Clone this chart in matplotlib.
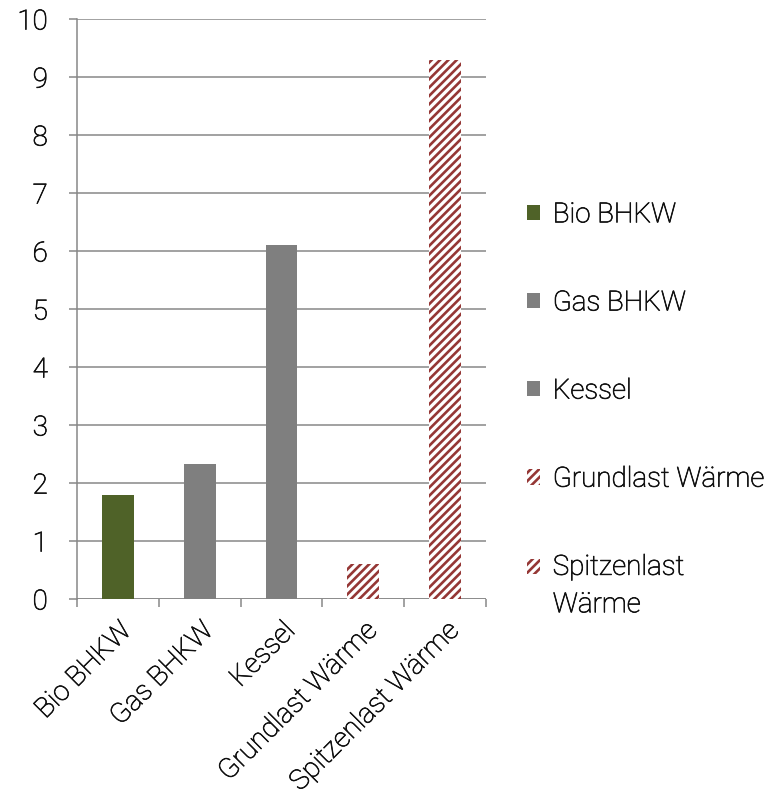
import matplotlib
matplotlib.use("Agg")
import matplotlib.pyplot as plt
import matplotlib.patheffects as pe
from matplotlib.patches import Patch
from matplotlib.ticker import FixedLocator

plt.rcParams['font.family'] = ['Roboto', 'DejaVu Sans']
plt.rcParams['font.weight'] = 'light'
plt.rcParams['hatch.linewidth'] = 1.9

categories = ["Bio BHKW", "Gas BHKW", "Kessel", "Grundlast Wärme", "Spitzenlast Wärme"]
values = [1.8, 2.33, 6.1, 0.6, 9.3]
legend_labels = ["Bio BHKW", "Gas BHKW", "Kessel", "Grundlast Wärme", "Spitzenlast\nWärme"]
y_ticks = list(range(0, 11))

green = "#4F6228"
gray = "#7F7F7F"
red = "#953735"
axis_gray = "#878787"
text_color = "#111111"

styles = [
    dict(facecolor=green, edgecolor=green, hatch=None),
    dict(facecolor=gray, edgecolor=gray, hatch=None),
    dict(facecolor=gray, edgecolor=gray, hatch=None),
    dict(facecolor="white", edgecolor=red, hatch="////"),
    dict(facecolor="white", edgecolor=red, hatch="////"),
]

# slightly firmer strokes for the light face
text_fx = [pe.withStroke(linewidth=0.5, foreground=text_color)]

fig = plt.figure(figsize=(7.84, 8.04), dpi=100)
ax = fig.add_axes([0.0982, 0.2537, 0.5218, 0.7214])

x = list(range(len(categories)))
for xi, v, st in zip(x, values, styles):
    ax.bar(xi, v, width=0.39, linewidth=0, zorder=3, **st)

ax.set_xlim(-0.5, len(categories) - 0.5)
ax.set_ylim(0, 10)
ax.set_yticks(y_ticks)
ax.set_yticklabels([str(t) for t in y_ticks])
ax.yaxis.grid(True, color=axis_gray, linewidth=1.1, zorder=0)
ax.set_axisbelow(True)

for s in ["top", "right", "bottom"]:
    ax.spines[s].set_visible(False)
ax.spines["left"].set_color(axis_gray)
ax.spines["left"].set_linewidth(1.1)
ax.axhline(0, color=axis_gray, linewidth=1.1, zorder=1)

ax.set_xticks(x)
ax.set_xticklabels(categories, rotation=45, ha="right", rotation_mode="anchor")
ax.xaxis.set_minor_locator(FixedLocator([i - 0.5 for i in range(len(categories) + 1)]))
ax.tick_params(axis="x", which="major", length=0, pad=13, labelsize=20, labelcolor=text_color)
ax.tick_params(axis="x", which="minor", length=6, width=1.1, color=axis_gray)
ax.tick_params(axis="y", length=6, width=1.1, color=axis_gray, pad=15, labelsize=20, labelcolor=text_color)

for lbl in ax.get_xticklabels() + ax.get_yticklabels():
    lbl.set_path_effects(text_fx)

handles = [Patch(facecolor=st["facecolor"], edgecolor=st["edgecolor"], hatch=st["hatch"], linewidth=0)
           for st in styles]
leg = fig.legend(handles, legend_labels, loc="center left", bbox_to_anchor=(0.654, 0.489),
                 frameon=False, fontsize=20, labelspacing=2.2, handlelength=0.48,
                 handleheight=0.48, handletextpad=0.46, borderpad=0, labelcolor=text_color)
for t in leg.get_texts():
    t.set_linespacing(1.5)
    t.set_path_effects(text_fx)

# Put the two-line entry's swatch beside its first line
last = leg.legend_handles[-1]
last.set_y(last.get_y() + 14.4)

fig.savefig("out.png", dpi=100)
